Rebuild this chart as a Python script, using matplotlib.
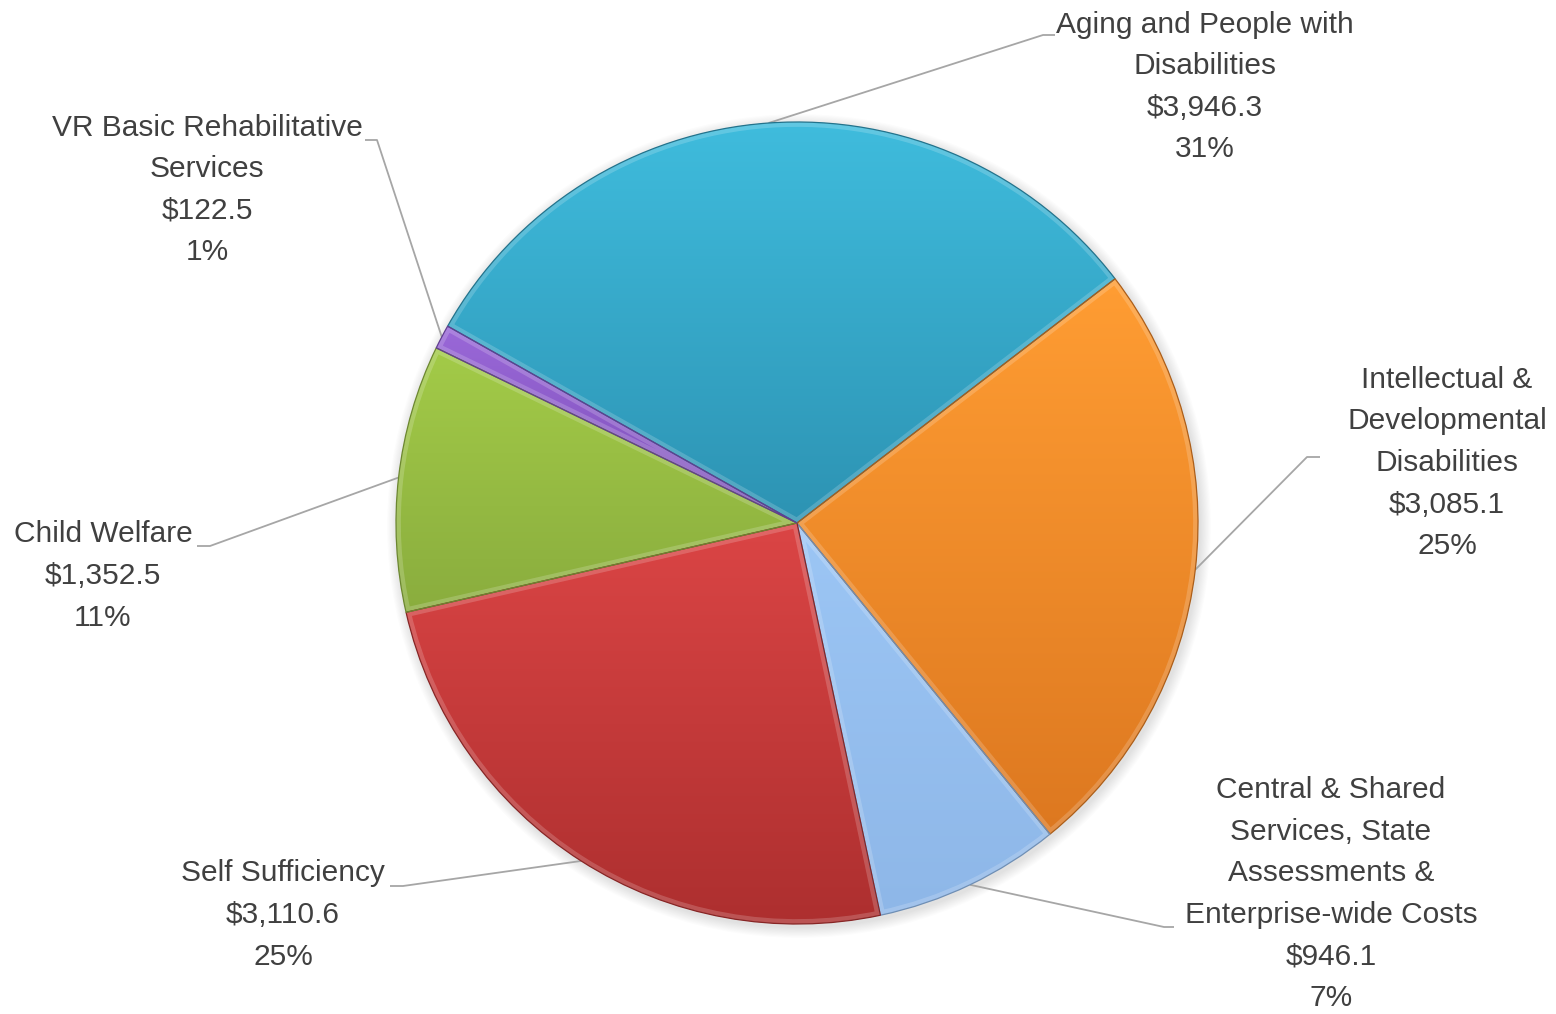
import numpy as np
import matplotlib
matplotlib.use("Agg")
import matplotlib.pyplot as plt
from matplotlib import font_manager
from matplotlib.colors import to_rgb
from matplotlib.patches import Wedge, Circle

# budget by program area, in millions
names = [
    "Aging and People with\nDisabilities",
    "Intellectual &\nDevelopmental\nDisabilities",
    "Central & Shared\nServices, State\nAssessments &\nEnterprise-wide Costs",
    "Self Sufficiency",
    "Child Welfare",
    "VR Basic Rehabilitative\nServices",
]
amounts = [3946.3, 3085.1, 946.1, 3110.6, 1352.5, 122.5]
pct_labels = [31, 25, 7, 25, 11, 1]

# top / bottom colours of each slice's shading
top_colors = ["#3fbcdd", "#ff9d33", "#9cc6f5", "#db4545", "#a3cb48", "#9a68d8"]
bottom_colors = ["#2d93b3", "#dd7820", "#8eb7e8", "#ad2f2f", "#8aad3e", "#7c4fb8"]

W, H = 1556, 1014
fig = plt.figure(figsize=(W / 100, H / 100), dpi=100)
ax = fig.add_axes([0, 0, 1, 1])

# narrow font if it is around, otherwise a smaller regular one
family, fsize, lspace = "DejaVu Sans", 20, 1.7
for cand, fs, ls in [("Liberation Sans Narrow", 25, 1.3), ("Liberation Sans", 21.5, 1.62)]:
    try:
        font_manager.findfont(cand, fallback_to_default=False)
        family, fsize, lspace = cand, fs, ls
        break
    except ValueError:
        pass
plt.rcParams["font.family"] = family

cx, cy, radius = 797, H - 523, 401

# soft shadow under the pie
for i in range(10):
    ax.add_patch(Circle((cx + 2, cy - 3), radius + 1 + i * 1.1, color="black",
                        alpha=0.012, lw=0, zorder=1))

wedges, _ = ax.pie(amounts, startangle=150.6, counterclock=False, radius=radius,
                   center=(cx, cy), wedgeprops=dict(facecolor="none", edgecolor="none"))


def shade(c, f):
    r, g, b = to_rgb(c)
    return (r * f, g * f, b * f)


for w, ctop, cbot in zip(wedges, top_colors, bottom_colors):
    ext = w.get_path().get_extents()
    t = np.linspace(0, 1, 256)[:, None, None]
    grad = (1 - t) * np.array(to_rgb(cbot)) + t * np.array(to_rgb(ctop))
    im = ax.imshow(grad, extent=(ext.x0, ext.x1, ext.y0, ext.y1), origin="lower",
                   interpolation="bilinear", zorder=2)
    im.set_clip_path(w)

    # light bevel along the inside of the slice border
    hl = Wedge(w.center, w.r, w.theta1, w.theta2, facecolor="none",
               edgecolor="white", lw=7, alpha=0.18, zorder=3)
    ax.add_patch(hl)
    hl.set_clip_path(w)
    w.set_edgecolor(shade(cbot, 0.78))
    w.set_linewidth(0.9)
    w.set_zorder(4)

# label block centres and leader elbows (pixel positions from the top-left)
label_pos = [(1205, 87), (1447, 463), (1331, 894), (283, 915), (103, 576), (207, 190)]
elbows = [(1043, 35), (1307, 457), (1164, 927), (403, 886), (210, 546), (377, 140)]
line_ends = [(1055, 35), (1320, 457), (1174, 927), (390, 886), (197, 546), (365, 140)]

for w, name, amt, pct, lp, el, le in zip(wedges, names, amounts, pct_labels,
                                         label_pos, elbows, line_ends):
    mid = np.deg2rad((w.theta1 + w.theta2) / 2)
    sx = cx + radius * np.cos(mid)
    sy = cy + radius * np.sin(mid)
    ax.plot([sx, el[0], le[0]], [sy, H - el[1], H - le[1]], color="#a6a6a6",
            lw=1.3, zorder=1, solid_capstyle="butt")
    ax.text(lp[0], H - lp[1], f"{name}\n\\${amt:,.1f}\n{pct}%", ha="center",
            va="center", multialignment="center", fontsize=fsize, color="#404040",
            linespacing=lspace, zorder=5)

ax.set_xlim(0, W)
ax.set_ylim(0, H)
ax.set_aspect("equal")
ax.axis("off")
fig.savefig("out.png", dpi=100, facecolor="white")
